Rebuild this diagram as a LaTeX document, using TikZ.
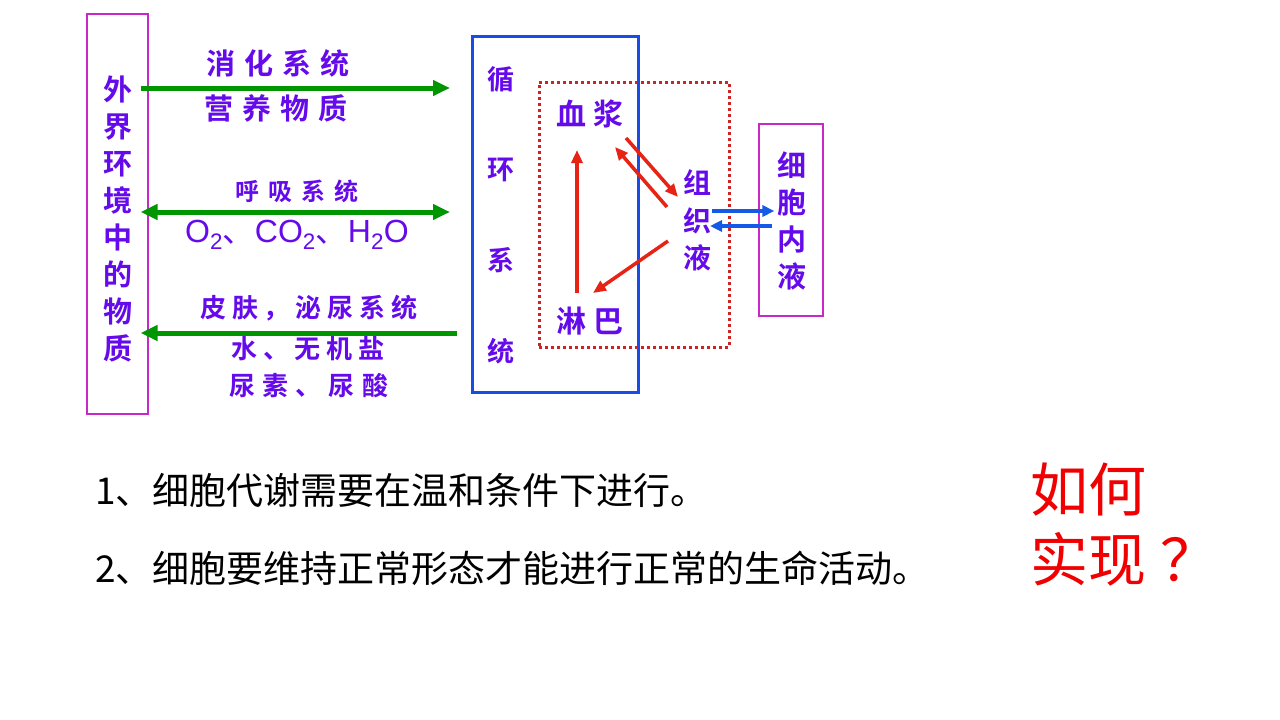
\documentclass[tikz,border=0pt]{standalone}
\usepackage{fontspec}
\usetikzlibrary{arrows.meta,calc}
\newfontfamily\cjk{Noto Sans CJK SC}
\newfontfamily\cjkb{Noto Sans CJK SC Bold}
\newfontfamily\lat{Liberation Sans}
\definecolor{txtpurple}{RGB}{100,10,235}
\definecolor{arrgreen}{RGB}{0,150,0}
\definecolor{boxblue}{RGB}{25,75,230}
\definecolor{arrblue}{RGB}{20,90,230}
\definecolor{arrred}{RGB}{230,35,20}
\definecolor{dotred}{RGB}{205,35,35}
\definecolor{boxmag}{RGB}{200,40,200}
\definecolor{qred}{RGB}{240,0,0}
\begin{document}
\begin{tikzpicture}[x=1pt,y=-1pt,
  lbl/.style={inner sep=0pt,text=txtpurple},
  vlbl/.style={lbl,align=center},
  garrow/.style={draw=arrgreen,line width=5pt,-{Triangle[length=17pt,width=15pt]}},
  gdarrow/.style={draw=arrgreen,line width=5pt,{Triangle[length=17pt,width=15pt]}-{Triangle[length=17pt,width=15pt]}},
  rarrow/.style={draw=arrred,line width=3.5pt,-{Triangle[length=13pt,width=11pt]}},
  barrow/.style={draw=arrblue,line width=3.2pt,-{Triangle[length=12pt,width=11pt]}},
  magbox/.style={draw=boxmag,line width=1.2pt,inner sep=0pt},
]
\useasboundingbox[fill=white] (0,0) rectangle (1280,720);

% left box
\node[magbox,minimum width=61pt,minimum height=400pt] (envbox) at (117.5,214) {};
\node[vlbl,font=\cjkb\fontsize{29}{37}\selectfont] (envtxt) at (118,218.5) {外\\界\\环\\境\\中\\的\\物\\质};

% circulation box
\node[draw=boxblue,line width=3pt,inner sep=0pt,minimum width=166pt,minimum height=356pt] (circbox) at (555,214) {};
\node[vlbl,font=\cjkb\fontsize{27}{90.7}\selectfont] (circtxt) at (501,215) {循\\环\\系\\统};

% dotted inner environment box
\node[draw=dotred,line width=3pt,dash pattern=on 3pt off 3pt,inner sep=0pt,minimum width=190pt,minimum height=265pt] (inbox) at (634,214.5) {};

% cell fluid box
\node[magbox,minimum width=64pt,minimum height=192pt] (cellbox) at (791,220) {};
\node[vlbl,font=\cjkb\fontsize{29}{37}\selectfont] (celltxt) at (792,220.5) {细\\胞\\内\\液};

% fluids
\node[lbl,font=\cjkb\fontsize{30}{30}\selectfont\addfontfeature{LetterSpace=25}] (plasma) at (590,114) {血浆};
\node[lbl,font=\cjkb\fontsize{30}{30}\selectfont\addfontfeature{LetterSpace=25}] (lymph) at (590,321) {淋巴};
\node[vlbl,font=\cjkb\fontsize{28}{37.5}\selectfont] (tissue) at (697,220.5) {组\\织\\液};

% green arrow labels
\node[lbl,font=\cjkb\fontsize{29}{29}\selectfont\addfontfeature{LetterSpace=30}] (dig) at (278,63) {消化系统};
\node[lbl,font=\cjkb\fontsize{29}{29}\selectfont\addfontfeature{LetterSpace=30}] (nut) at (276,108) {营养物质};
\node[lbl,font=\cjkb\fontsize{24}{24}\selectfont\addfontfeature{LetterSpace=38}] (resp) at (297,191) {呼吸系统};
\node[lbl,font=\lat\fontsize{32}{32}\selectfont] (gas) at (297,235) {O\textsubscript{2}{\cjk 、}CO\textsubscript{2}{\cjk 、}H\textsubscript{2}O};
\node[lbl,font=\cjkb\fontsize{26}{26}\selectfont\addfontfeature{LetterSpace=23}] (skin) at (309,308) {皮肤，泌尿系统};
\node[lbl,font=\cjkb\fontsize{26}{26}\selectfont\addfontfeature{LetterSpace=22}] (water) at (308,349) {水、无机盐};
\node[lbl,font=\cjkb\fontsize{26}{26}\selectfont\addfontfeature{LetterSpace=27}] (urea) at (309,386) {尿素、尿酸};

% green arrows
\coordinate (g1s) at (envbox.east |- 0,88);
\coordinate (g1e) at (450,88);
\draw[garrow] ([xshift=-8pt]g1s) -- (g1e);
\coordinate (g2s) at (envbox.east |- 0,212);
\coordinate (g2e) at (450,212);
\draw[gdarrow] ([xshift=-8pt]g2s) -- (g2e);
\coordinate (g3s) at (457,333);
\coordinate (g3e) at (envbox.east |- 0,333);
\draw[garrow] (g3s) -- ([xshift=-8pt]g3e);

% red arrows
\draw[rarrow] ($(lymph.center)+(-13,-28)$) -- ($(plasma.center)+(-13,36)$);
\draw[rarrow] ($(plasma.center)+(36,24)$) -- ($(tissue.center)+(-19,-23.5)$);
\draw[rarrow] ($(tissue.center)+(-30,-13.5)$) -- ($(plasma.center)+(25,33)$);
\draw[rarrow] ($(tissue.center)+(-29,20.5)$) -- ($(lymph.center)+(3,-28)$);

% blue arrows
\draw[barrow] ($(tissue.center)+(15,-9.5)$) -- ($(cellbox.west)+(16,-9)$);
\draw[barrow] ($(cellbox.west)+(14,6)$) -- ($(tissue.center)+(13,5.5)$);

% bottom text
\node[anchor=west,inner sep=0pt,font=\cjk\fontsize{37}{37}\selectfont] (line1) at (95,490) {1、细胞代谢需要在温和条件下进行。};
\node[anchor=west,inner sep=0pt,font=\cjk\fontsize{37}{37}\selectfont] (line2) at (95,568) {2、细胞要维持正常形态才能进行正常的生命活动。};
\node[anchor=west,inner sep=0pt,text=qred,font=\cjk\fontsize{58}{70}\selectfont,align=left] (howq) at (1030,525) {如何\\实现\hspace{0.25em}？};
\end{tikzpicture}
\end{document}
